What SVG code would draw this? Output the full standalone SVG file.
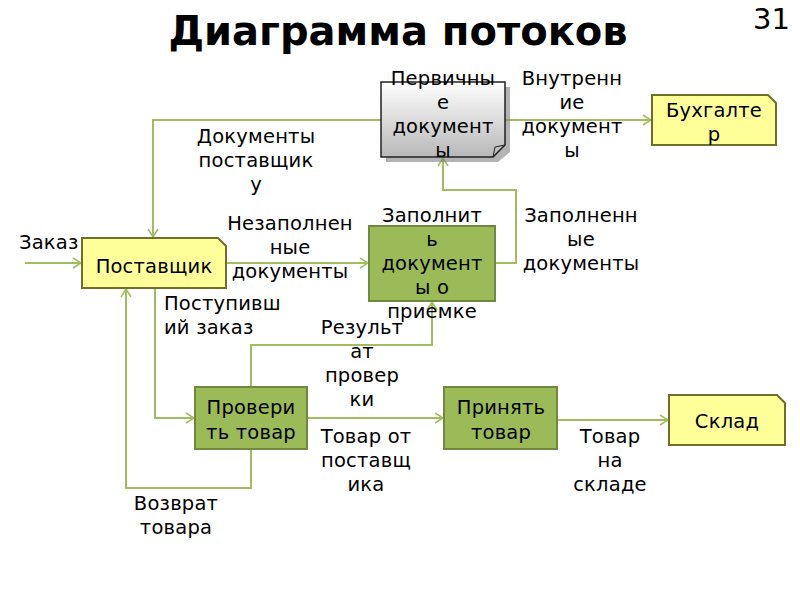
<svg xmlns="http://www.w3.org/2000/svg" width="800" height="600" viewBox="0 0 800 600">
<style>
.t{font-family:"DejaVu Sans","Liberation Sans",sans-serif;font-size:19.5px;letter-spacing:0.2px;fill:#000;text-anchor:middle}
.l{text-anchor:start}
.title{font-family:"DejaVu Sans","Liberation Sans",sans-serif;font-size:40px;font-weight:bold;text-anchor:middle;fill:#000}
.num{font-family:"DejaVu Sans","Liberation Sans",sans-serif;font-size:29px;fill:#000}
.yel{fill:#ffff99;stroke:#6f6f2a;stroke-width:2}
.grn{fill:#9bbb59;stroke:#71893f;stroke-width:2}
.c{fill:none;stroke:#a2bd60;stroke-width:2}
</style>
<defs>
<marker id="a" markerWidth="12" markerHeight="12" refX="10" refY="6" orient="auto" markerUnits="userSpaceOnUse">
<path d="M2,1 L10,6 L2,11" fill="none" stroke="#a2bd60" stroke-width="1.5"/>
</marker>
<linearGradient id="g" x1="0" y1="0" x2="0" y2="1">
<stop offset="0" stop-color="#ffffff"/>
<stop offset="1" stop-color="#b8b8b8"/>
</linearGradient>
</defs>
<rect width="800" height="600" fill="#fff"/>
<text class="title" x="398" y="45">Диаграмма потоков</text>
<text class="num" x="753" y="29">31</text>

<g id="connectors">
<path class="c" d="M25,263 H81" marker-end="url(#a)"/>
<path class="c" d="M505,120 H651" marker-end="url(#a)"/>
<path class="c" d="M381,120 H153 V237" marker-end="url(#a)"/>
<path class="c" d="M226,263 H368" marker-end="url(#a)"/>
<path class="c" d="M495,263 H516 V190 H443 V158" marker-end="url(#a)"/>
<path class="c" d="M155,288 V418 H194" marker-end="url(#a)"/>
<path class="c" d="M251,387 V345 H432 V302" marker-end="url(#a)"/>
<path class="c" d="M307,418 H443" marker-end="url(#a)"/>
<path class="c" d="M251,449 V488 H126 V289" marker-end="url(#a)"/>
<path class="c" d="M557,420 H668" marker-end="url(#a)"/>
</g>

<g id="n-primary">
<path d="M386,87 H510 V152 L498,162 H386 Z" fill="#808080" opacity="0.6"/>
<path d="M381,82 H505 V145 L493,157 H381 Z" fill="url(#g)" stroke="#222" stroke-width="1.5"/>
<path d="M493,157 L495,147 L505,145" fill="none" stroke="#222" stroke-width="1"/>
<text class="t" x="443" y="85">Первичны</text>
<text class="t" x="443" y="109">е</text>
<text class="t" x="443" y="133">документ</text>
<text class="t" x="443" y="157">ы</text>
</g>

<g id="n-accountant">
<path class="yel" d="M652,95 H768 L776,103 V145 H652 Z"/>
<text class="t" x="714" y="117">Бухгалте</text>
<text class="t" x="714" y="141">р</text>
</g>

<g id="n-supplier">
<path class="yel" d="M82,238 H218 L226,246 V288 H82 Z"/>
<text class="t" x="154" y="273">Поставщик</text>
</g>

<g id="n-fill">
<rect class="grn" x="369" y="226" width="126" height="75"/>
<text class="t" x="432" y="222">Заполнит</text>
<text class="t" x="432" y="246">ь</text>
<text class="t" x="432" y="270">документ</text>
<text class="t" x="432" y="294">ы о</text>
<text class="t" x="432" y="318">приемке</text>
</g>

<g id="n-check">
<rect class="grn" x="195" y="387" width="112" height="62"/>
<text class="t" x="251" y="414">Провери</text>
<text class="t" x="251" y="439">ть товар</text>
</g>

<g id="n-accept">
<rect class="grn" x="444" y="387" width="113" height="62"/>
<text class="t" x="501" y="414">Принять</text>
<text class="t" x="501" y="439">товар</text>
</g>

<g id="n-warehouse">
<path class="yel" d="M669,395 H777 L785,403 V445 H669 Z"/>
<text class="t" x="727" y="428">Склад</text>
</g>

<g id="labels">
<text class="t l" x="19" y="249">Заказ</text>
<text class="t" x="572" y="85">Внутренн</text>
<text class="t" x="572" y="109">ие</text>
<text class="t" x="572" y="133">документ</text>
<text class="t" x="572" y="157">ы</text>
<text class="t" x="256" y="143">Документы</text>
<text class="t" x="256" y="167">поставщик</text>
<text class="t" x="256" y="191">у</text>
<text class="t" x="290" y="230">Незаполнен</text>
<text class="t" x="290" y="254">ные</text>
<text class="t" x="290" y="278">документы</text>
<text class="t" x="581" y="222">Заполненн</text>
<text class="t" x="581" y="246">ые</text>
<text class="t" x="581" y="270">документы</text>
<text class="t l" x="164" y="310">Поступивш</text>
<text class="t l" x="164" y="334">ий заказ</text>
<text class="t" x="362" y="334">Результ</text>
<text class="t" x="362" y="358">ат</text>
<text class="t" x="362" y="382">провер</text>
<text class="t" x="362" y="406">ки</text>
<text class="t" x="366" y="443">Товар от</text>
<text class="t" x="366" y="467">поставщ</text>
<text class="t" x="366" y="491">ика</text>
<text class="t" x="176" y="510">Возврат</text>
<text class="t" x="176" y="534">товара</text>
<text class="t" x="610" y="443">Товар</text>
<text class="t" x="610" y="467">на</text>
<text class="t" x="610" y="491">складе</text>
</g>
</svg>
